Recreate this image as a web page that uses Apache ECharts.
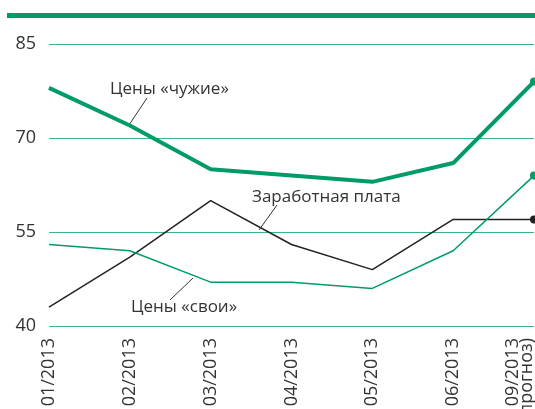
<!DOCTYPE html>
<html>
<head>
<meta charset="utf-8">
<script src="https://cdn.jsdelivr.net/npm/echarts@6/dist/echarts.min.js"></script>
<style>
  html, body { margin: 0; padding: 0; background: #fff; }
  #main { width: 535px; height: 409px; }
</style>
</head>
<body>
<div id="main"></div>
<script>
var months = ['01/2013', '02/2013', '03/2013', '04/2013', '05/2013', '06/2013', '09/2013\n(прогноз)'];
var foreignPrices = [78, 72, 65, 64, 63, 66, 79];
var wages = [43, 51, 60, 53, 49, 57, 57];
var ownPrices = [53, 52, 47, 47, 46, 52, 64];
var yTicks = [40, 55, 70, 85];

var green = '#009b67';
var gridGreen = '#3cb48a';
var font = '"Open Sans", "Noto Sans", sans-serif';

var chartDom = document.getElementById('main');
var myChart = echarts.init(chartDom);

// only the forecast point gets a dot
function lastDot(value, params) {
    return params.dataIndex === months.length - 1 ? 8 : 0;
}

// the forecast label sits left of its point so it is not cut off
var monthItems = months.map(function (m, i) {
    if (i === months.length - 1) {
        return { value: m, textStyle: { verticalAlign: 'bottom' } };
    }
    return m;
});

var option = {
    animation: false,
    grid: { left: 49, right: 1, top: 44, bottom: 83, outerBoundsMode: 'none', containLabel: false },
    xAxis: {
        type: 'category',
        data: monthItems,
        boundaryGap: false,
        axisLine: { show: false },
        axisTick: { show: false },
        axisLabel: {
            rotate: 90,
            margin: 12,
            interval: 0,
            fontFamily: font,
            fontSize: 18,
            color: '#333',
            lineHeight: 14
        }
    },
    yAxis: {
        type: 'value',
        min: yTicks[0],
        max: yTicks[yTicks.length - 1],
        interval: 15,
        axisLine: { show: false },
        axisTick: { show: false },
        axisLabel: {
            margin: 13,
            fontFamily: font,
            fontSize: 18,
            color: '#333'
        },
        splitLine: { lineStyle: { color: gridGreen, width: 1 } }
    },
    series: [
        {
            name: 'Цены «чужие»',
            type: 'line',
            data: foreignPrices,
            symbol: 'circle',
            symbolSize: lastDot,
            showAllSymbol: true,
            clip: false,
            lineStyle: { color: green, width: 4 },
            itemStyle: { color: green }
        },
        {
            name: 'Заработная плата',
            type: 'line',
            data: wages,
            symbol: 'circle',
            symbolSize: lastDot,
            showAllSymbol: true,
            clip: false,
            lineStyle: { color: '#222', width: 1.5 },
            itemStyle: { color: '#222' }
        },
        {
            name: 'Цены «свои»',
            type: 'line',
            data: ownPrices,
            symbol: 'circle',
            symbolSize: lastDot,
            showAllSymbol: true,
            clip: false,
            lineStyle: { color: green, width: 1.5 },
            itemStyle: { color: green }
        }
    ],
    graphic: [
        { type: 'rect', shape: { x: 7, y: 13, width: 528, height: 5 }, style: { fill: green } },
        { type: 'text', x: 110, y: 89, style: { text: 'Цены «чужие»', font: '17px ' + font, fill: '#333', textVerticalAlign: 'middle' } },
        { type: 'line', shape: { x1: 147, y1: 98, x2: 129, y2: 125 }, style: { stroke: '#333', lineWidth: 1 } },
        { type: 'text', x: 252, y: 197, style: { text: 'Заработная плата', font: '17px ' + font, fill: '#333', textVerticalAlign: 'middle' } },
        { type: 'line', shape: { x1: 277, y1: 205, x2: 259, y2: 230 }, style: { stroke: '#333', lineWidth: 1 } },
        { type: 'text', x: 131, y: 307, style: { text: 'Цены «свои»', font: '17px ' + font, fill: '#333', textVerticalAlign: 'middle' } },
        { type: 'line', shape: { x1: 193, y1: 278, x2: 170, y2: 300 }, style: { stroke: '#333', lineWidth: 1 } }
    ]
};

myChart.setOption(option);
</script>
</body>
</html>
